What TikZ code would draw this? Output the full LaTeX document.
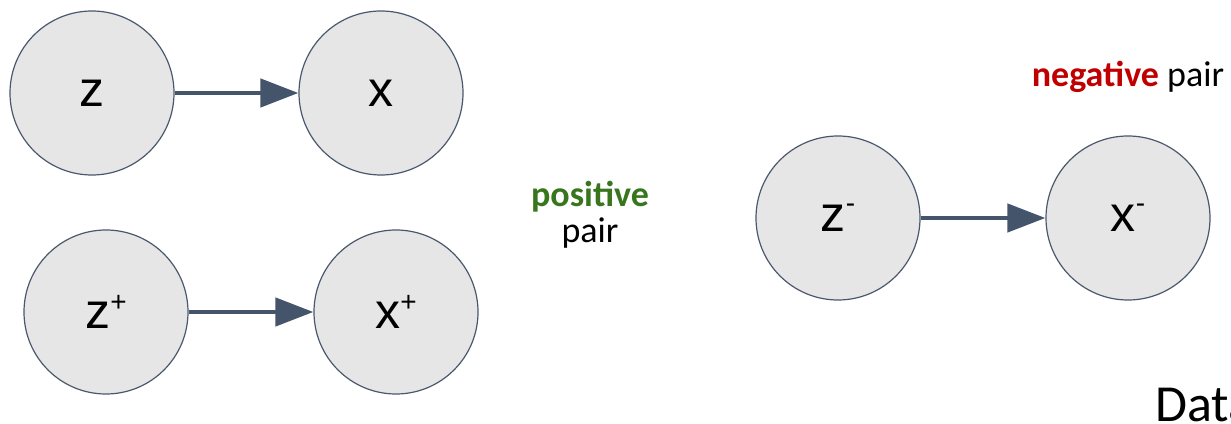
\documentclass[tikz,border=0pt]{standalone}
\usepackage{fontspec}
\setmainfont{Liberation Sans}
\newfontfamily\calibri{Carlito}
\usetikzlibrary{arrows.meta, positioning}
\definecolor{nodefill}{RGB}{230,230,230}
\definecolor{nodeline}{RGB}{74,88,110}
\definecolor{arrowgray}{RGB}{68,84,106}
\definecolor{posgreen}{RGB}{56,118,29}
\definecolor{negred}{RGB}{192,0,0}

% small raised sign after a variable name
\newcommand{\upmark}[2]{\raisebox{#1}{\fontsize{28}{28}\selectfont #2}}

\tikzset{
    var/.style={circle, draw=nodeline, fill=nodefill, line width=1.2pt,
        minimum size=164pt, inner sep=0pt, font=\fontsize{50}{60}\selectfont},
    gen/.style={-{Triangle[length=38pt,width=28pt]}, line width=4.5pt, arrowgray},
    lbl/.style={font=\calibri\fontsize{36}{36}\selectfont}
}

\begin{document}
\begin{tikzpicture}[x=1pt, y=1pt]
    \useasboundingbox (0,0) rectangle (1231,423);

    % Anchor sample
    \node[var] (z) at (92,330) {z};
    \node[var] (x) at (381,330) {x};
    \draw[gen] (z) -- (x);

    % Positive sample
    \node[var] (zp) at (106,111) {z\upmark{17pt}{+}};
    \node[var] (xp) at (396,111) {x\upmark{17pt}{+}};
    \draw[gen] (zp) -- (xp);

    \node[lbl, anchor=base] (pos) at (590,216) {\textcolor{posgreen}{\textbf{positive}}};
    \node[lbl, anchor=base] (pospair) at (590,180) {pair};

    % Negative sample
    \node[var] (zn) at (838,205) {z\upmark{19pt}{-}};
    \node[var] (xn) at (1128,205) {x\upmark{19pt}{-}};
    \draw[gen] (zn) -- (xn);

    \node[lbl, anchor=base] (neg) at (1128,336) {\textcolor{negred}{\textbf{negative}} pair};

    \node[anchor=base west, font=\calibri\fontsize{52}{60}\selectfont, inner sep=0pt] (data) at (1155,2) {Data};
\end{tikzpicture}
\end{document}
